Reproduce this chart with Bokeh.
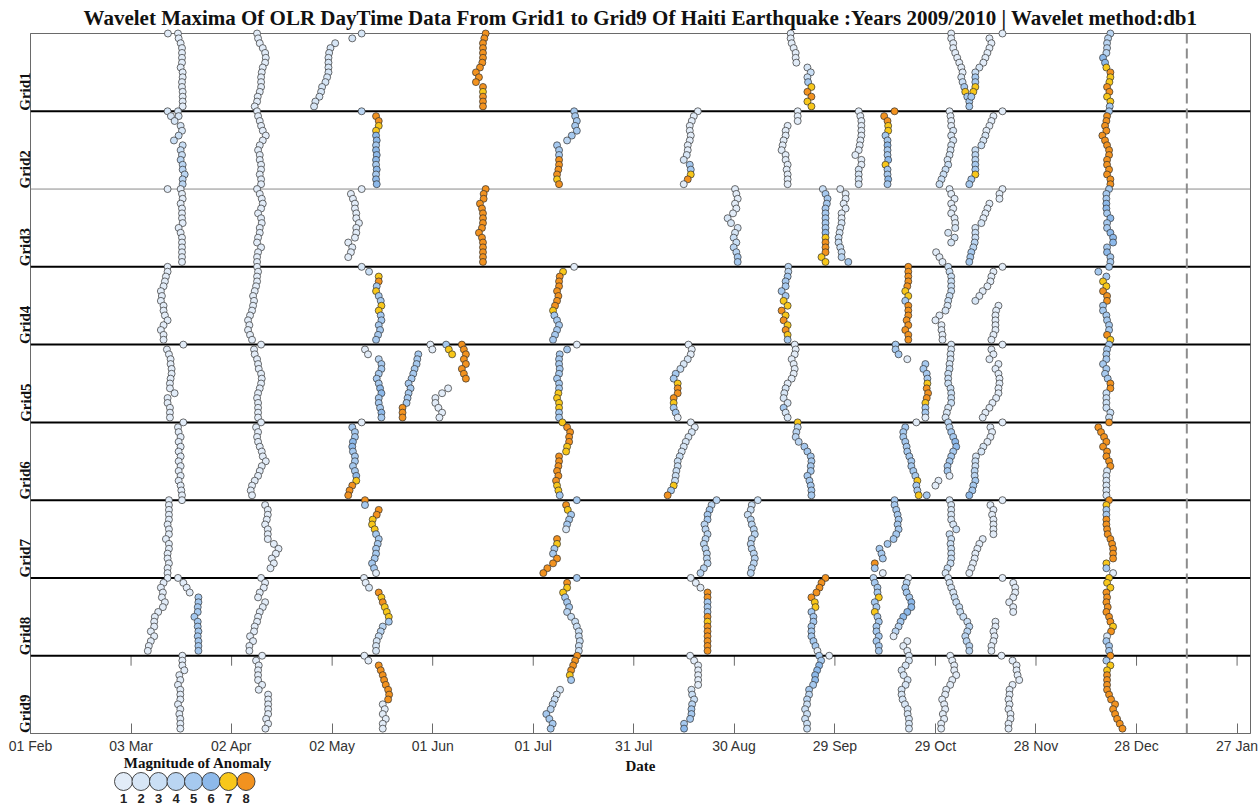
import math
from bokeh.plotting import figure
from bokeh.layouts import column
from bokeh.models import Range1d, Span, FixedTicker, ColumnDataSource
from bokeh.embed import file_html
from bokeh.resources import INLINE
from bokeh.core.properties import value

TITLE = ("Wavelet Maxima Of OLR DayTime Data From Grid1 to Grid9 Of Haiti Earthquake "
         ":Years 2009/2010 | Wavelet method:db1")
X_LABEL = "Date"
LEGEND_TITLE = "Magnitude of Anomaly"

grid_labels = ["Grid1", "Grid2", "Grid3", "Grid4", "Grid5", "Grid6", "Grid7", "Grid8", "Grid9"]
# x axis: days since 01 Feb 2009
tick_days = [0, 30, 60, 90, 120, 150, 180, 210, 240, 270, 300, 330, 360]
tick_labels = ["01 Feb", "03 Mar", "02 Apr", "02 May", "01 Jun", "01 Jul", "31 Jul",
               "30 Aug", "29 Sep", "29 Oct", "28 Nov", "28 Dec", "27 Jan"]
x_end_day = 364
quake_day = 345          # 12 Jan 2010
levels_per_grid = 16

magnitudes = [1, 2, 3, 4, 5, 6, 7, 8]
mag_colors = ["#e2ecf8", "#d7e6f6", "#cadff5", "#bad5f2", "#a6c9ef", "#8db9ea", "#f8c71a", "#f2921f"]

# each chain: (top scale level, day of each maximum from the top level downward, magnitudes)
grid1 = [
    (16, [41.0], "1"),
    (16, [44.0, 44.2, 44.8, 45.2, 45.2, 45.2, 45.2, 44.8, 45.4, 45.4, 45.2, 45.2, 45.4, 45.4, 45.4, 45.4], "1111111111111111"),
    (16, [67.6, 67.9, 68.4, 69.3, 70.0, 70.2, 70.0, 69.3, 69.0, 68.8, 68.8, 68.8, 68.4, 67.8, 67.6, 66.9], "1111111111111111"),
    (16, [98.8, 96.0], "22"),
    (14, [90.9, 89.5, 89.1, 88.9, 88.9, 88.9, 88.9, 88.5, 88.0, 87.0, 86.7, 86.2, 85.0, 84.6], "22222222222222"),
    (16, [135.8, 135.4, 135.0, 135.0, 135.0, 135.0, 134.8, 134.1, 132.9, 133.8, 132.9, 135.0, 135.0, 135.0, 135.0, 135.0], "8888888888887888"),
    (16, [226.8, 226.8, 227.1, 227.7, 228.3, 228.3, 228.5, 231.8, 232.8, 231.8, 232.0, 233.0, 231.8, 233.0, 231.8, 233.0], "1111111233578877"),
    (16, [274.7, 274.7, 275.3, 275.3, 275.9, 276.5, 277.1, 277.7, 278.1, 277.7, 278.1, 278.6, 278.9, 279.5, 280.1, 280.1], "1111111112357555"),
    (16, [290.0], "1"),
    (15, [286.1, 286.7, 286.1, 285.5, 284.9, 284.3, 283.1, 281.9, 281.9, 281.9, 281.9, 281.3, 280.7], "1111112355775"),
    (16, [322.2, 321.5, 321.2, 321.2, 321.0, 320.0, 320.6, 321.0, 322.2, 322.2, 321.9, 321.2, 321.9, 321.2, 322.2, 322.0], "4444466787788775"),
]
grid2 = [
    (16, [44.0, 44.2], "22"),
    (16, [40.9, 41.9, 43.0, 44.8, 45.2, 44.2, 42.8, 45.4, 44.8, 45.2, 44.8, 45.4, 45.4, 46.0, 45.4, 45.4], "2222233333444444"),
    (16, [67.6, 67.9, 68.4, 68.8, 69.3, 70.2, 69.3, 68.4, 67.9, 68.4, 68.4, 68.8, 68.8, 68.4, 68.8, 68.8], "1111111111111111"),
    (16, [98.8], "4"),
    (15, [103.1, 103.9, 103.9, 103.1, 103.1, 103.3, 103.1, 103.1, 103.3, 103.1, 103.1, 103.3, 103.1, 103.1, 103.3], "887766566656566"),
    (16, [162.2, 162.5, 163.0, 162.5, 163.0, 161.5, 160.1, 157.1, 157.7, 157.7, 157.7, 157.7, 157.5, 157.1, 157.1, 157.7], "5555554555888878"),
    (16, [199.1, 197.9, 197.3, 196.7, 196.7, 197.0, 196.7, 196.1, 196.1, 195.8, 194.9, 196.7, 197.0, 197.0, 196.1, 194.9], "1111111112255781"),
    (16, [228.9, 228.9, 228.9], "111"),
    (13, [225.9, 225.3, 225.3, 224.7, 224.4, 224.1, 225.3, 225.3, 225.9, 225.6, 225.9, 225.9, 225.9], "1111111111111"),
    (16, [247.1, 247.6, 247.9, 247.9, 247.9, 247.9, 247.6, 247.4, 247.1, 246.1, 247.9, 247.9, 247.1, 247.1, 247.1, 247.1], "1111111111112222"),
    (16, [257.8], "8"),
    (15, [254.7, 255.7, 255.9, 255.9, 255.1, 255.7, 255.7, 255.7, 255.7, 255.9, 255.1, 255.7, 255.7, 255.9, 255.7], "887755655675565"),
    (16, [274.2, 274.5, 274.7, 274.7, 275.3, 274.7, 275.3, 274.7, 274.5, 274.2, 273.6, 273.8, 273.0, 272.4, 271.8, 271.2], "1111222222233333"),
    (16, [290.0], "1"),
    (15, [287.3, 286.7, 286.1, 285.2, 284.9, 284.3, 283.7, 281.9, 281.9, 281.9, 281.9, 281.9, 281.9, 280.7, 280.1], "111122334455755"),
    (16, [321.8, 321.2, 321.0, 320.6, 321.0, 319.8, 320.6, 321.2, 321.8, 321.8, 321.2, 321.2, 321.8, 321.2, 322.2, 322.2], "5888888888888888"),
]
grid3 = [
    (16, [40.9], "1"),
    (16, [44.8, 45.2, 45.4, 44.8, 45.2, 45.2, 45.2, 45.4, 44.2, 44.8, 45.2, 45.2, 45.2, 45.2, 45.2, 45.2], "1111111111111111"),
    (16, [67.6, 68.4, 69.0, 69.3, 68.8, 67.9, 68.8, 69.0, 68.4, 68.4, 67.9, 67.6, 68.8, 67.9, 67.6, 67.6], "1111111111111111"),
    (16, [98.8], "1"),
    (15, [95.6, 96.2, 96.8, 96.8, 97.2, 97.2, 98.0, 97.2, 97.2, 96.8, 94.8, 96.0, 95.6, 94.8], "11111111111111"),
    (16, [135.8, 135.2, 135.2, 134.1, 134.7, 135.0, 135.0, 135.0, 134.7, 133.8, 134.7, 135.0, 135.0, 135.0, 135.0, 135.0], "8888888888888888"),
    (16, [210.2, 210.6, 211.0, 210.2, 210.6, 209.6, 208.0, 209.0, 211.0, 210.2, 209.8, 210.6, 209.8, 210.6, 211.0, 211.0], "1111112222334455"),
    (16, [236.4, 237.2, 237.8, 237.6, 237.2, 237.2, 237.2, 237.2, 237.2, 237.2, 237.2, 237.2, 237.2, 237.2, 236.0, 237.2], "3555555556788877"),
    (16, [241.6, 243.2, 243.2, 242.6, 243.2, 242.0, 242.0, 242.0, 241.6, 241.4, 241.1, 241.1, 241.6, 242.0, 242.0, 244.0], "1111111222333345"),
    (16, [274.2, 274.7, 275.7, 274.7, 275.3, 274.7, 275.7, 275.9, 275.9, 273.8, 275.7, 274.7], "111111112222"),
    (3, [270.2, 271.2, 272.1], "111"),
    (16, [290.0, 289.1, 289.1], "111"),
    (13, [286.1, 285.5, 284.9, 284.3, 283.7, 281.9, 281.9, 281.9, 281.7, 281.3, 280.7, 280.4, 280.1], "1111223344555"),
    (16, [321.8, 321.0, 321.0, 321.0, 321.0, 321.2, 322.2, 321.2, 321.2, 322.2, 323.0, 323.0, 321.2, 321.2, 322.2, 322.2], "5556656556665655"),
]
grid4 = [
    (16, [40.9, 40.9, 40.4, 40.1, 39.7, 38.9, 39.2, 38.9, 39.7, 39.7, 40.1, 40.9, 39.7, 38.9, 39.7, 39.7], "1111111111111111"),
    (16, [67.6, 67.9, 67.6, 67.6, 67.3, 66.9, 66.4, 66.7, 66.4, 66.1, 65.5, 64.9, 65.3, 64.9, 65.5, 66.1], "1111111111111111"),
    (16, [98.8, 101.0, 103.9, 103.9, 103.3, 103.1, 103.9, 104.5, 104.7, 103.9, 104.5, 104.7, 103.9, 104.3, 103.7, 103.1], "2378575577555555"),
    (16, [162.2], "1"),
    (15, [158.9, 157.9, 157.7, 157.7, 157.1, 157.5, 157.1, 156.5, 155.9, 156.3, 157.1, 157.7, 157.1, 156.5, 155.9], "788888887555555"),
    (16, [226.1, 226.1, 225.9, 225.3, 225.3, 224.1, 225.3, 224.7, 225.9, 224.1, 225.3, 224.7, 225.9, 225.3, 225.9, 225.9], "4455555778787875"),
    (16, [261.9, 261.9, 261.9, 261.9, 261.6, 261.0, 261.9, 261.0, 261.9, 261.9, 261.9, 261.4, 261.9, 261.0, 261.9, 261.9], "8888877588888888"),
    (16, [273.8, 274.2, 274.7, 274.7, 274.7, 274.7, 274.2, 273.8, 273.6, 273.0, 271.2, 270.0, 271.8, 271.8, 272.1, 272.1], "3333333322111111"),
    (16, [290.0], "1"),
    (15, [287.3, 286.7, 286.4, 285.5, 284.1, 283.1, 281.9], "1111112"),
    (8, [288.8, 288.1, 287.9, 287.9, 287.9, 287.9, 287.3, 286.7], "11111111"),
    (16, [321.8, 318.6, 321.0, 320.0, 321.0, 320.0, 321.2, 321.2, 320.0, 320.0, 321.0, 321.2, 321.8, 321.8, 321.2, 322.2], "5557788855555587"),
]
grid5 = [
    (16, [45.6], "1"),
    (15, [40.7, 41.3, 41.8, 41.8, 42.1, 42.1, 41.8, 41.6, 41.6, 43.0, 40.9, 40.9, 41.6, 41.6, 41.6], "111111111111111"),
    (16, [68.8, 66.7, 66.9, 67.6, 67.9, 68.1, 68.8, 69.0, 68.8, 68.4, 67.9, 67.6, 67.9, 67.9, 67.9, 67.9], "1111111111111111"),
    (15, [99.8, 100.7, 103.9, 104.7, 104.7, 103.9, 103.3, 103.9, 104.3, 104.7, 103.9, 103.9, 104.3, 104.7, 104.7], "114555556655565"),
    (14, [115.7, 115.4, 115.2, 114.6, 114.2, 113.7, 112.8, 113.4, 112.8, 112.5, 112.2, 111.0, 111.0, 111.0], "55555555555888"),
    (16, [119.3, 119.9], "11"),
    (7, [124.6, 122.8, 120.8, 120.8, 121.7, 122.8, 122.0], "1111111"),
    (16, [124.0, 124.8, 125.8], "577"),
    (16, [128.7, 129.3, 129.9, 129.3, 129.9, 128.7, 129.3, 129.9], "88888888"),
    (16, [163.0], "1"),
    (15, [160.1, 157.9, 157.7, 157.7, 157.9, 157.7, 157.1, 157.7, 157.7, 157.5, 157.1, 157.7, 157.7, 157.7, 157.7], "555555555777755"),
    (16, [196.3], "1"),
    (15, [197.3, 197.0, 196.1, 194.9, 193.9, 192.5, 191.9, 193.1, 193.1, 193.1, 191.9, 191.9, 191.9, 192.5, 193.1], "112235578887551"),
    (16, [228.0, 228.3, 228.0, 227.1, 227.7, 228.0, 227.7, 227.1, 225.9, 225.3, 224.9, 224.7, 225.9, 224.7, 225.3, 225.9], "1111111112222522"),
    (16, [258.1, 258.1, 259.0, 261.6], "5551"),
    (12, [267.0, 266.4, 267.4, 267.6, 267.6, 267.4, 267.8, 267.4, 267.0, 267.0, 267.0, 267.0], "555578887551"),
    (16, [274.7, 274.7, 274.5, 274.5, 274.2, 274.2, 273.8, 273.8, 273.8, 274.5, 274.7, 274.7, 274.7, 273.8, 273.4, 273.0], "2222233333333222"),
    (16, [290.0], "1"),
    (15, [286.7, 287.3, 286.1], "111"),
    (12, [288.8, 287.9, 288.8, 289.1, 289.1, 288.8, 288.8, 288.1, 287.0, 286.1, 284.9, 284.1], "111111111111"),
    (16, [321.8, 321.2, 321.0, 321.0, 320.0, 321.0, 320.6, 321.4, 322.2, 322.2, 321.0, 321.0, 321.0, 321.0, 322.2, 321.8], "5555555588333333"),
]
grid6 = [
    (16, [45.6, 44.0, 44.2, 44.8, 44.2, 44.8, 44.2, 44.8, 44.2, 44.8, 44.2, 44.8, 44.2, 44.8, 45.0, 45.2], "1111111111111111"),
    (16, [68.8, 67.3, 67.9, 67.6, 67.9, 68.4, 69.0, 69.3, 70.2, 69.0, 68.4, 67.9, 66.9, 66.1, 65.7, 66.1], "1111111111111111"),
    (16, [98.8], "1"),
    (15, [96.0, 96.8, 96.8, 96.2, 96.0, 96.2, 96.8, 96.8, 96.2, 96.8, 97.2, 97.2, 96.0, 95.2, 94.8], "555665555567888"),
    (16, [158.7, 160.1, 161.0, 160.7, 160.7, 160.1, 159.8, 157.7, 157.7, 157.5, 157.1, 157.5, 156.8, 157.1, 157.5, 157.9], "7888877888888775"),
    (16, [197.0, 198.2, 197.3, 196.3, 195.5, 194.9, 194.3, 193.7, 193.1, 193.1, 192.7, 192.5, 192.3, 191.9, 191.1, 190.1], "1122222333333758"),
    (16, [228.9, 228.9, 228.5, 228.3, 229.2, 230.9, 231.8, 232.8, 233.0, 232.8, 232.8, 231.8, 232.4, 232.8, 233.0, 233.0], "7444455555555555"),
    (16, [264.3], "1"),
    (15, [261.0, 260.4, 260.4, 261.0, 261.4, 261.6, 262.2, 262.8, 262.8, 263.4, 264.0, 264.6, 264.3, 264.6, 265.0], "555555555557557"),
    (1, [267.4], "5"),
    (4, [270.9, 270.0], "11"),
    (16, [273.8, 274.2, 274.7, 275.3, 275.9, 276.2, 275.3, 274.7, 274.2, 273.6, 273.6, 274.2], "445566555551"),
    (16, [290.0], "1"),
    (15, [286.4, 286.9, 286.4, 285.5, 284.3, 283.7, 282.1, 281.9, 281.9, 281.7, 281.7, 281.9, 281.3, 281.0, 280.1], "111122233445556"),
    (16, [321.8, 318.6, 319.4, 320.3, 321.0, 320.0, 321.2, 321.0, 321.8, 322.2, 321.2, 321.0, 321.0, 321.0, 321.0, 321.0], "8888888888222222"),
]
grid7 = [
    (16, [45.2], "1"),
    (16, [41.3, 41.3, 41.3, 41.3, 41.3, 40.9, 41.3, 41.3, 40.4, 41.3, 41.3, 40.9, 40.9, 41.3, 40.9, 40.9], "1111111111111111"),
    (15, [70.0, 70.8, 70.8, 70.5, 70.0, 70.8, 70.8, 70.8, 72.6, 74.0, 73.2, 72.0, 72.6, 71.6], "11111111111111"),
    (16, [99.8, 99.8], "85"),
    (14, [103.9, 103.3, 102.1, 101.9, 102.7, 103.1, 103.9, 103.6, 103.1, 103.1, 102.7, 101.9, 102.5, 103.1], "88777555555551"),
    (16, [163.0], "5"),
    (15, [159.8, 160.3, 161.3, 160.7, 160.1, 159.8], "875552"),
    (8, [157.1, 157.1, 156.3, 155.9, 157.1, 155.9, 154.2, 153.0], "87558888"),
    (16, [204.7, 203.2, 202.6, 202.0, 202.0, 201.1, 201.4, 202.0, 201.4, 200.9, 201.4, 201.8, 201.8, 202.0, 200.9, 199.9], "4455544444444444"),
    (16, [217.0, 215.2, 214.9, 214.0, 214.9, 215.2, 215.8, 216.1, 215.2, 214.9, 215.2, 215.8, 216.1, 215.8, 215.2, 214.9], "3333444444444444"),
    (16, [257.8, 257.8, 258.3, 258.7, 259.0, 258.7, 259.0, 258.3, 257.5, 255.7, 253.3, 253.9, 254.3, 251.9, 251.9, 254.3], "5555555555555851"),
    (16, [274.2, 274.7, 274.7, 274.7, 274.7, 275.3, 276.2, 274.2, 274.7, 274.5, 274.7, 274.7, 274.7, 274.5, 273.6, 273.0], "2222223333333332"),
    (16, [290.0], "1"),
    (15, [286.4, 287.3, 286.9, 287.3, 287.3, 287.3, 287.3], "1111111"),
    (8, [284.1, 283.1, 282.5, 281.9, 281.7, 281.2, 280.7, 280.1], "11111111"),
    (16, [321.8, 321.0, 321.0, 321.0, 321.0, 321.0, 321.2, 321.4, 322.2, 322.7, 323.0, 323.0, 323.0, 321.0, 321.0, 323.0], "8755888888888751"),
]
grid8 = [
    (16, [40.9, 39.7, 38.9, 39.5, 39.2, 40.1, 39.5, 38.1, 37.1, 36.9, 36.9, 35.9, 36.9, 35.9, 35.3, 35.0], "1111111111111111"),
    (16, [44.0, 45.6, 46.6, 47.5], "1111"),
    (12, [50.1, 50.1, 49.9, 49.9, 48.9, 49.9, 49.9, 50.1, 49.9, 50.1, 50.1, 50.1], "555555555555"),
    (16, [68.8, 70.0, 69.6, 68.4, 67.9, 70.0, 69.3, 68.4, 67.9, 67.6, 66.9, 66.7, 65.5, 66.4, 65.3, 65.3], "1111111111111111"),
    (16, [99.5, 100.0, 101.0, 103.9, 104.7, 105.1, 105.7, 106.3, 106.9, 106.9, 105.1, 104.5, 103.9, 103.3, 103.1, 103.1], "1128787775443222"),
    (16, [163.0], "5"),
    (15, [160.1, 160.1, 158.9, 159.5, 160.1, 160.7, 160.1, 161.3, 162.5, 163.0, 163.6, 163.6, 163.9, 163.6, 163.6], "877555433333333"),
    (16, [197.0, 198.5, 199.9, 202.0, 202.0, 202.0, 202.0, 202.0, 202.0, 202.0, 202.0, 202.0, 202.0, 202.0, 202.0, 202.0], "1118855587888888"),
    (16, [237.2, 236.0, 235.4, 234.5, 233.0, 234.0, 234.2, 233.0, 233.6, 233.6, 233.0, 233.0, 233.0, 233.6, 234.2, 234.8], "8888877555555551"),
    (16, [251.5, 251.9, 252.7, 252.7, 253.1, 251.9, 252.4, 251.9, 252.7, 253.1, 252.4, 252.4, 253.1, 252.4, 253.1, 253.1], "4555755755555555"),
    (16, [261.9, 261.4, 261.0, 261.4, 262.2, 262.8, 262.8, 261.6, 260.4, 259.6, 259.0, 258.1, 257.5], "1455566665441"),
    (3, [261.6, 260.4, 261.6], "111"),
    (16, [273.8, 274.2, 274.7, 275.3, 275.7, 276.2, 277.1, 277.4, 278.3, 279.5, 280.1, 279.5, 278.9, 279.3, 280.1, 280.1], "2222333333444444"),
    (16, [290.0], "1"),
    (15, [293.2, 293.8, 293.8, 293.2, 292.0, 293.2, 293.2], "1111111"),
    (7, [287.9, 287.9, 287.3, 287.6, 287.3, 286.7, 286.7], "1111111"),
    (16, [321.8, 321.2, 322.2, 321.0, 321.2, 321.0, 321.4, 321.0, 321.8, 322.2, 323.0, 322.4, 321.2, 321.0, 321.8, 321.8], "7778888888782555"),
]
grid9 = [
    (16, [45.3, 45.3, 45.3, 45.9, 44.4, 44.7, 44.0, 44.7, 44.7, 44.7, 44.0, 44.7, 44.4, 44.7, 44.7, 44.7], "1111111111111111"),
    (16, [69.1, 67.3, 68.1, 67.9, 67.9, 67.9, 69.1, 68.1], "11111111"),
    (8, [70.9, 70.9, 70.9, 70.9, 70.9, 70.3, 70.9, 70.1], "11111111"),
    (16, [99.6, 100.8, 103.9, 104.5, 105.1, 105.5, 106.0, 106.7, 107.0, 106.7, 105.1, 105.7, 105.1, 106.0, 105.1, 105.1], "1188888888111111"),
    (16, [163.1, 162.5, 161.9, 161.3, 160.9, 161.3], "888875"),
    (9, [158.0, 157.0, 156.4, 155.8, 155.2, 153.9, 154.8, 155.8, 155.2], "223445555"),
    (16, [196.8, 198.0, 199.2, 199.2, 199.2, 199.2, 199.2, 197.2, 197.4, 198.0, 197.4, 197.2, 197.2, 196.8, 195.0, 195.0], "1111111233455556"),
    (16, [238.3], "1"),
    (16, [235.3, 235.9, 235.3, 234.7, 234.1, 234.1, 233.5, 232.3, 232.3, 231.7, 231.7, 231.1, 231.7, 231.1, 231.7, 231.7], "5566665544333333"),
    (16, [262.1, 262.1, 261.1, 259.9, 260.5, 261.7, 261.1, 259.9, 259.9, 260.2, 260.9, 261.7, 261.7, 262.1, 262.1, 262.1], "2222222222222222"),
    (16, [274.4, 275.0, 275.6, 275.6, 276.2, 275.0, 274.4, 273.2, 272.9, 272.0, 272.6, 272.9, 272.2, 272.6, 271.7, 271.7], "1111111111111111"),
    (16, [289.7], "1"),
    (15, [293.0, 294.2, 294.2, 294.5, 295.0, 293.0, 292.1, 292.1, 291.8, 292.1, 291.8, 292.4, 292.4, 291.8, 291.8], "111111111111111"),
    (16, [322.2, 321.0, 322.2, 321.2, 321.2, 321.2, 321.2, 321.2, 321.8, 322.4, 323.6, 323.0, 323.6, 324.2, 325.0, 325.8], "8577888888888888"),
]
grids = [grid1, grid2, grid3, grid4, grid5, grid6, grid7, grid8, grid9]

# ---------------------------------------------------------------- build points
n_grids = len(grids)
xs, ys, cs = [], [], []
for g, chains in enumerate(grids):
    base = (n_grids - 1 - g) * levels_per_grid
    for top, days, mags in chains:
        for i, d in enumerate(days):
            m = int(mags[min(i, len(mags) - 1)])
            xs.append(d)
            ys.append(base + top - i)
            cs.append(mag_colors[m - 1])
src = ColumnDataSource(dict(x=xs, y=ys, c=cs))

y_top = n_grids * levels_per_grid
SERIF = "Liberation Serif"
SANS = "Liberation Sans"
FRAME_GREY = "#6a6a6a"
BORDER_L, BORDER_R = 30, 10

p = figure(width=1260, height=778, x_range=Range1d(0, x_end_day), y_range=Range1d(0, y_top),
           output_backend="svg", toolbar_location=None,
           min_border_left=BORDER_L, min_border_right=BORDER_R, min_border_top=33, min_border_bottom=45)
p.title.text = TITLE
p.title.align = "center"
p.title.text_font = SERIF
p.title.text_font_style = "bold"
p.title.text_font_size = "21px"
p.title.text_color = "#111111"
p.title.standoff = 7
p.grid.visible = False
p.outline_line_color = FRAME_GREY
p.outline_line_width = 1
p.background_fill_color = "white"
p.border_fill_color = "white"

# x axis
p.xaxis.ticker = FixedTicker(ticks=tick_days)
p.xaxis.major_label_overrides = {d: lab for d, lab in zip(tick_days, tick_labels)}
p.xaxis.major_tick_in = 10
p.xaxis.major_tick_out = 0
p.xaxis.minor_tick_line_color = None
p.xaxis.major_tick_line_color = FRAME_GREY
p.xaxis.axis_line_color = FRAME_GREY
p.xaxis.major_label_text_font = SANS
p.xaxis.major_label_text_font_size = "14px"
p.xaxis.major_label_text_color = "#333333"
p.xaxis.major_label_standoff = 4
p.xaxis.axis_label = X_LABEL
p.xaxis.axis_label_text_font = SERIF
p.xaxis.axis_label_text_font_style = "bold"
p.xaxis.axis_label_text_font_size = "15px"
p.xaxis.axis_label_text_color = "#111111"
p.xaxis.axis_label_standoff = 1

# y axis: one label per grid panel
centers = [(n_grids - 1 - g) * levels_per_grid + levels_per_grid / 2 for g in range(n_grids)]
p.yaxis.ticker = FixedTicker(ticks=centers)
p.yaxis.major_label_overrides = {c: lab for c, lab in zip(centers, grid_labels)}
p.yaxis.major_label_orientation = math.pi / 2
p.yaxis.major_tick_in = 0
p.yaxis.major_tick_out = 0
p.yaxis.minor_tick_line_color = None
p.yaxis.axis_line_color = FRAME_GREY
p.yaxis.major_label_text_font = SERIF
p.yaxis.major_label_text_font_style = "bold"
p.yaxis.major_label_text_font_size = "15px"
p.yaxis.major_label_text_color = "#111111"
p.yaxis.major_label_standoff = 5

# panel separators
for k in range(1, n_grids):
    yb = k * levels_per_grid
    thin = (k == n_grids - 2)  # between Grid2 and Grid3
    p.add_layout(Span(location=yb, dimension="width",
                      line_color="#8a8a8a" if thin else "#000000",
                      line_width=1 if thin else 2))

# ticks on the top edge of the Grid9 panel (pointing down)
inner_ticks = tick_days[1:]
p.segment(x0=inner_ticks, y0=[levels_per_grid] * len(inner_ticks),
          x1=inner_ticks, y1=[levels_per_grid - 2.05] * len(inner_ticks),
          line_color=FRAME_GREY, line_width=1)

# earthquake date
p.add_layout(Span(location=quake_day, dimension="height", line_color="#8c8c8c",
                  line_width=2, line_dash="10 5"))

# wavelet maxima
p.scatter(x="x", y="y", source=src, size=7, fill_color="c", line_color="#2f2f2f",
          line_width=0.7, level="overlay")

# ---------------------------------------------------------------- legend (own small figure)
LW, LH = 190, 54                      # legend frame size in px
leg = figure(width=LW + BORDER_L + BORDER_R, height=LH,
             x_range=Range1d(0, LW), y_range=Range1d(LH, 0),
             output_backend="svg", toolbar_location=None, x_axis_type=None, y_axis_type=None,
             min_border=0, min_border_left=BORDER_L, min_border_right=BORDER_R,
             min_border_top=0, min_border_bottom=0)
leg.grid.visible = False
leg.outline_line_color = None
leg.background_fill_color = None
leg.border_fill_color = None
leg.margin = (-26, 0, 0, 108 - BORDER_L)

leg_x = [15 + 17.5 * i for i in range(len(magnitudes))]
leg.scatter(x=leg_x, y=[29] * len(magnitudes), size=18, fill_color=mag_colors,
            line_color="#333333", line_width=0.9)
leg.text(x=leg_x, y=[46] * len(magnitudes), text=[str(m) for m in magnitudes],
         text_font=value(SANS), text_font_style="bold", text_font_size="13px",
         text_color="#222222", text_align="center", text_baseline="middle")
leg.text(x=[89.5], y=[10], text=[LEGEND_TITLE],
         text_font=value(SERIF), text_font_style="bold", text_font_size="15px",
         text_color="#111111", text_align="center", text_baseline="middle")

layout = column(p, leg, spacing=0)
open("out.html", "w").write(file_html(layout, INLINE))
